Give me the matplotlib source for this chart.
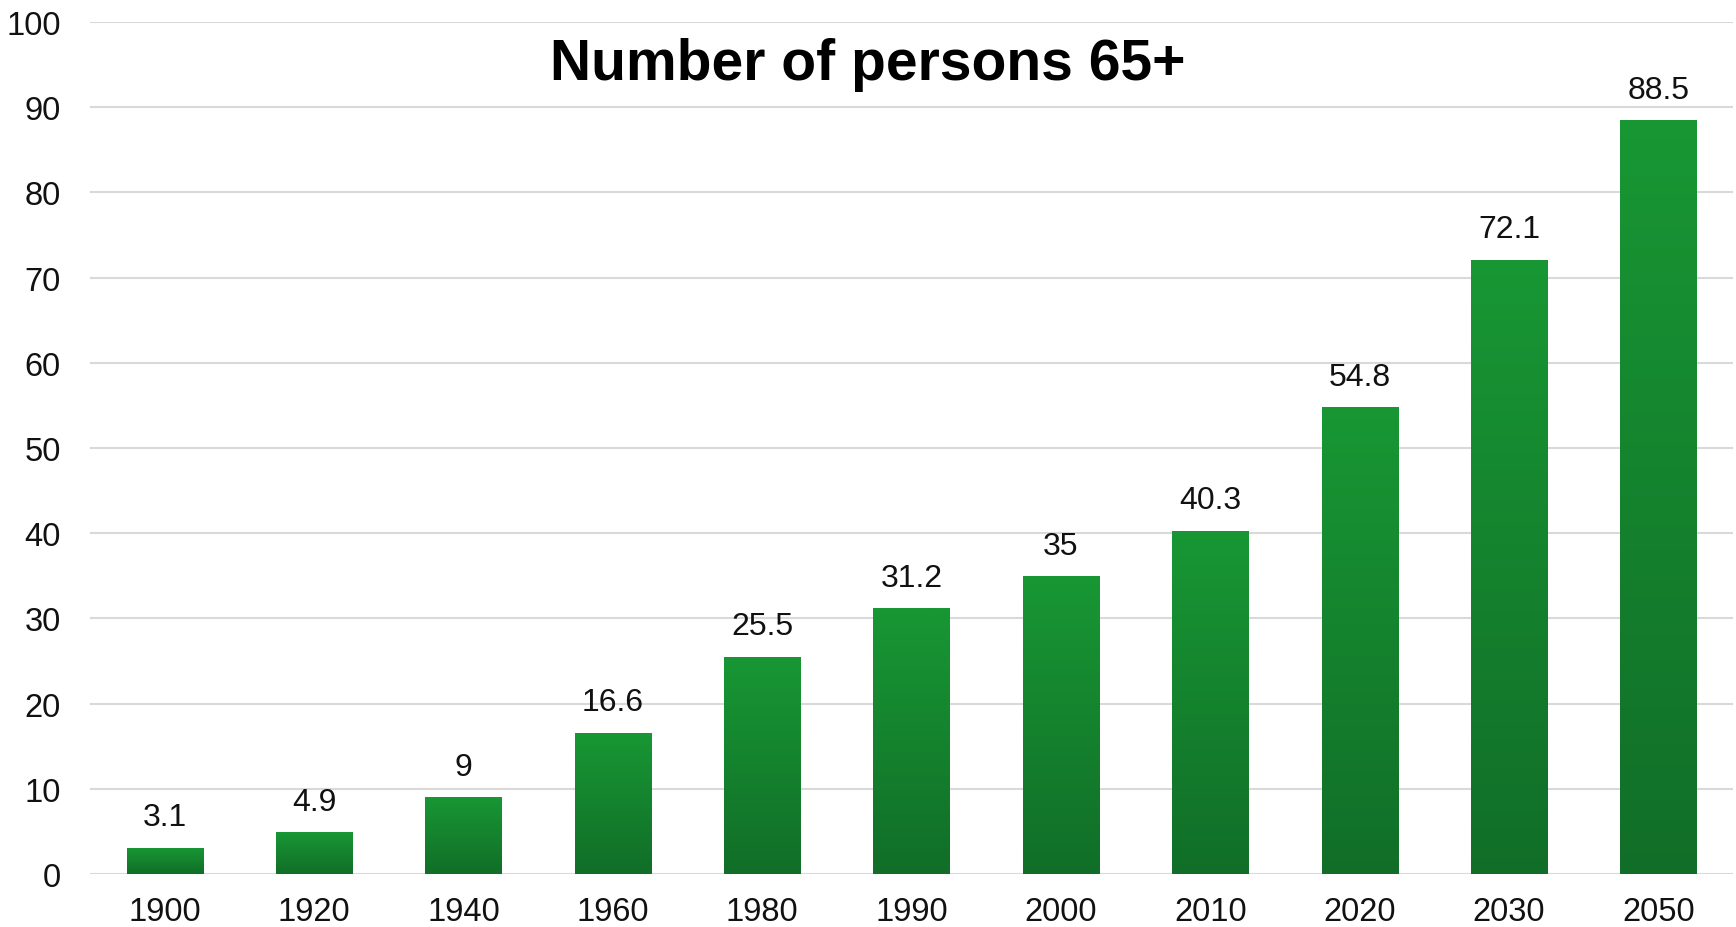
import numpy as np
import matplotlib
matplotlib.use('Agg')
import matplotlib.pyplot as plt
from matplotlib.colors import LinearSegmentedColormap

# données
years = ['1900', '1920', '1940', '1960', '1980', '1990', '2000', '2010', '2020', '2030', '2050']
persons_65 = [3.1, 4.9, 9, 16.6, 25.5, 31.2, 35, 40.3, 54.8, 72.1, 88.5]
value_labels = ['3.1', '4.9', '9', '16.6', '25.5', '31.2', '35', '40.3', '54.8', '72.1', '88.5']
y_ticks = [0, 10, 20, 30, 40, 50, 60, 70, 80, 90, 100]

plt.rcParams['font.family'] = ['Liberation Sans', 'DejaVu Sans']

fig = plt.figure(figsize=(17.36, 9.28), dpi=100)
ax = fig.add_axes([90 / 1736, 1 - 875 / 928, (1733 - 90) / 1736, (875 - 23) / 928])

x = np.arange(len(years))
bars = ax.bar(x, persons_65, width=0.51, color='#15832f', zorder=3)

# dégradé vertical dans chaque barre
grad_cmap = LinearSegmentedColormap.from_list('grn', ['#116e28', '#189734'])
gradient = np.linspace(0, 1, 256).reshape(-1, 1)
for rect in bars:
    x0, y0 = rect.get_x(), rect.get_y()
    w, h = rect.get_width(), rect.get_height()
    im = ax.imshow(gradient, cmap=grad_cmap, aspect='auto', origin='lower',
                   extent=[x0, x0 + w, y0, y0 + h], zorder=4)
    im.set_clip_path(rect)

for xi, v, lab in zip(x, persons_65, value_labels):
    ax.annotate(lab, (xi, v), xytext=(0, 11), textcoords='offset points',
                ha='center', va='bottom', fontsize=23, color='#111111')

ax.set_xlim(-0.5, len(years) - 0.5)
ax.set_ylim(0, 100)
ax.set_xticks(x)
ax.set_xticklabels(years)
ax.set_yticks(y_ticks)
ax.tick_params(axis='both', length=0, labelsize=23.5, colors='#111111')
ax.tick_params(axis='x', pad=16)
ax.tick_params(axis='y', pad=21)
ax.grid(axis='y', color='#d9d9d9', linewidth=1.5, zorder=0)
for s in ax.spines.values():
    s.set_visible(False)

fig.text(0.5, 1 - 65 / 928, 'Number of persons 65+', ha='center', va='center',
         fontsize=41, fontweight='bold', color='black')

plt.savefig('out.png', dpi=100)
